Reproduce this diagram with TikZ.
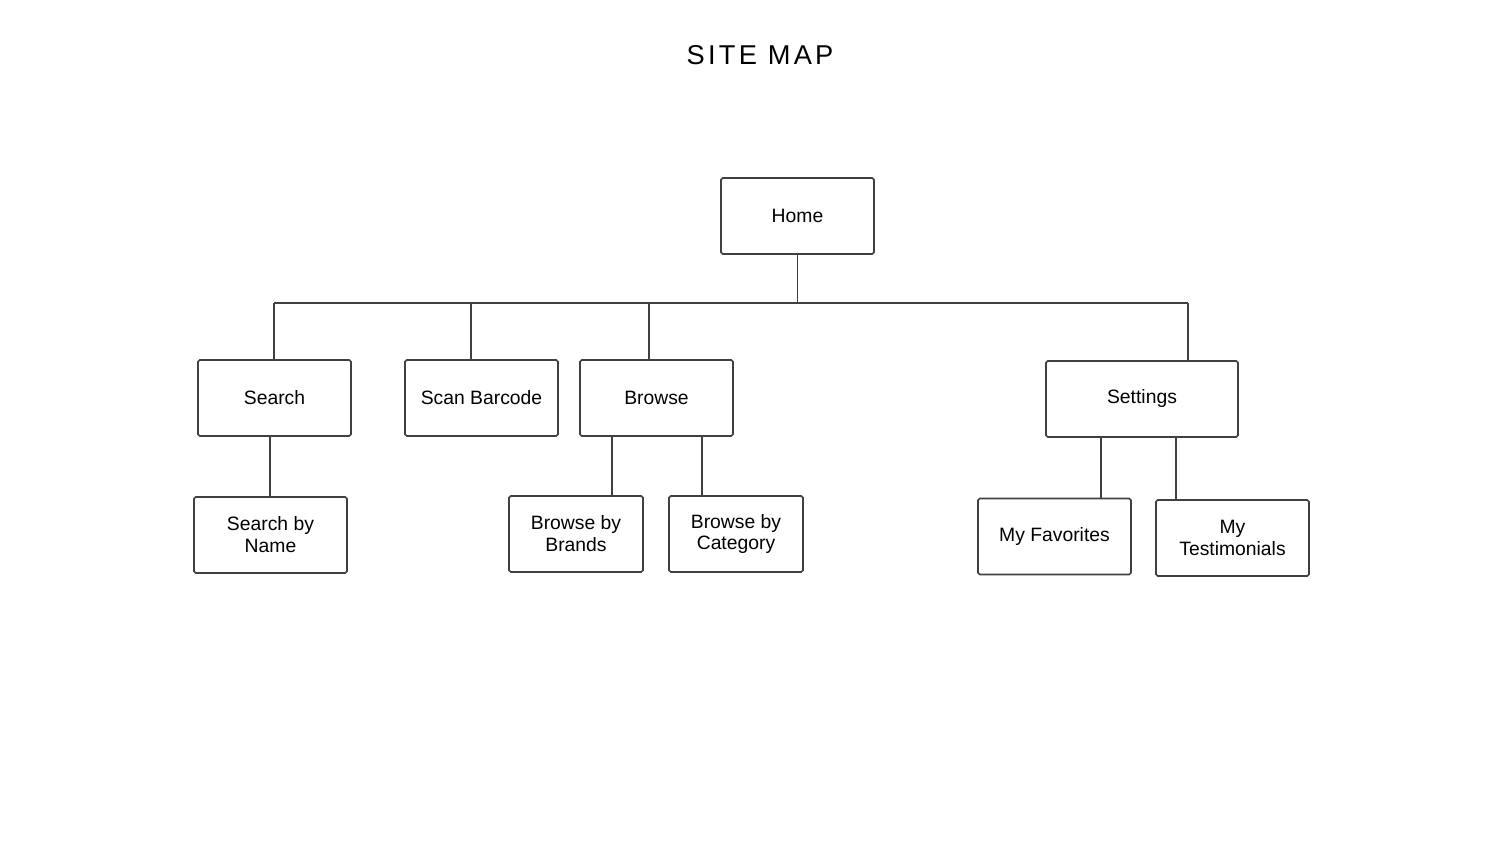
\documentclass[tikz,border=0pt]{standalone}
\usepackage{fontspec}
\setmainfont{Liberation Sans}
\newfontfamily\titlefont[LetterSpace=12]{Liberation Sans}
\usetikzlibrary{positioning}

\tikzset{
  pagebox/.style={draw=black!75, line width=0.9pt, rounded corners=1pt, align=center,
    minimum width=3.06cm, minimum height=1.52cm, inner sep=1pt, font=\fontsize{11}{12.5}\selectfont},
  link/.style={draw=black!75, line width=0.9pt}
}

\begin{document}
\begin{tikzpicture}
  \useasboundingbox (0,0) rectangle (30,17.12);

  % title
  \node (title) at (15.2,16.02) {\titlefont\fontsize{15.5}{18}\selectfont SITE MAP};

  % pages
  \node[pagebox] (home) at (15.95,12.8) {Home};
  \node[pagebox] (search) at (5.49,9.16) {Search};
  \node[pagebox] (scan) at (9.63,9.16) {Scan Barcode};
  \node[pagebox] (browse) at (13.13,9.16) {Browse};
  \node[pagebox, minimum width=3.84cm] (settings) at (22.84,9.14) {Settings};
  \node[pagebox] (byname) at (5.41,6.42) {Search by\\Name};
  \node[pagebox, minimum width=2.68cm] (brands) at (11.52,6.44) {Browse by\\Brands};
  \node[pagebox, minimum width=2.68cm] (category) at (14.72,6.44) {Browse by\\Category};
  \node[pagebox] (favorites) at (21.09,6.39) {My Favorites};
  \node[pagebox] (testimonials) at (24.65,6.36) {My\\Testimonials};

  % bus
  \coordinate (busl) at (5.48,11.06);
  \coordinate (busr) at (23.76,11.06);
  \draw[link] (home.south) -- (home.south |- busl);
  \draw[link] (busl) -- (busr);
  \draw[link] (busl) -- (busl |- search.north);
  \draw[link] (9.42,11.06) -- (9.42,0 |- scan.north);
  \draw[link] (12.98,11.06) -- (12.98,0 |- browse.north);
  \draw[link] (busr) -- (busr |- settings.north);

  % children
  \draw[link] (5.4,0 |- search.south) -- (5.4,0 |- byname.north);
  \draw[link] (12.24,0 |- browse.south) -- (12.24,0 |- brands.north);
  \draw[link] (14.04,0 |- browse.south) -- (14.04,0 |- category.north);
  \draw[link] (22.02,0 |- settings.south) -- (22.02,0 |- favorites.north);
  \draw[link] (23.52,0 |- settings.south) -- (23.52,0 |- testimonials.north);
\end{tikzpicture}
\end{document}
